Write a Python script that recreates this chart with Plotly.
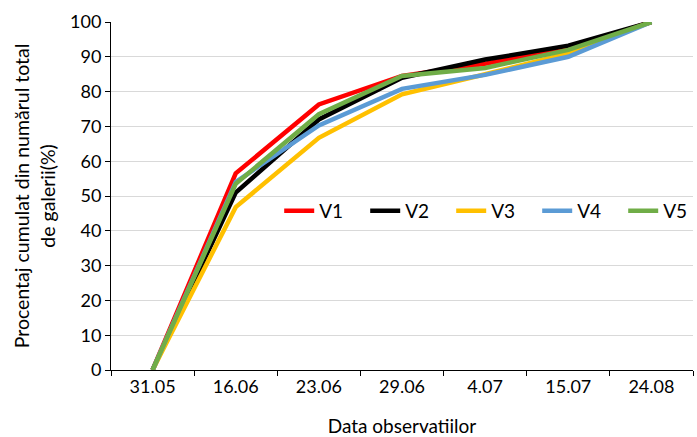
import plotly.graph_objects as go

categories = ["31.05", "16.06", "23.06", "29.06", "4.07", "15.07", "24.08"]
v1 = [0, 56.5, 76.3, 84.5, 88.0, 92.5, 100]
v2 = [0, 51.0, 72.0, 84.0, 89.2, 93.2, 100]
v3 = [0, 46.8, 66.7, 79.2, 85.0, 91.0, 100]
v4 = [0, 54.0, 70.3, 80.8, 84.8, 90.0, 100]
v5 = [0, 53.5, 73.5, 84.5, 86.8, 92.0, 100]

series = [("V1", v1, "#FF0000"), ("V2", v2, "#000000"), ("V3", v3, "#FFC000"),
          ("V4", v4, "#5B9BD5"), ("V5", v5, "#70AD47")]

FONT = "Lato, 'Open Sans', sans-serif"

fig = go.Figure()
for name, vals, col in series:
    fig.add_trace(go.Scatter(x=categories, y=vals, name=name, mode="lines",
                             line=dict(color=col, width=4.5)))

fig.update_layout(
    width=697, height=437,
    margin=dict(l=111, r=4, t=22, b=67, autoexpand=False),
    paper_bgcolor="white", plot_bgcolor="white",
    font=dict(family=FONT, size=18, color="#000000"),
    legend=dict(orientation="h", x=0.289, y=0.457, xanchor="left", yanchor="middle",
                font=dict(size=19), bgcolor="rgba(255,255,255,0)",
                itemwidth=30, tracegroupgap=0,
                entrywidth=41, entrywidthmode="pixels"),
    showlegend=True,
)
fig.update_xaxes(
    type="category", tickson="boundaries", ticks="outside", ticklen=5,
    tickcolor="black", showline=True, linecolor="black", linewidth=1,
    showgrid=False, range=[-0.5, 6.5],
    title=dict(text="Data observatiilor", font=dict(size=19), standoff=24),
    tickfont=dict(size=18),
)
fig.update_yaxes(
    range=[0, 100], dtick=10, ticks="outside", ticklen=5, tickcolor="black",
    showline=True, linecolor="black", linewidth=1,
    showgrid=True, gridcolor="#d9d9d9", gridwidth=1, zeroline=False,
    title=dict(text="Procentaj cumulat din numărul total<br>de galerii(%)",
               font=dict(size=19.5), standoff=9),
    tickfont=dict(size=18),
)

fig.write_html("out.html")
